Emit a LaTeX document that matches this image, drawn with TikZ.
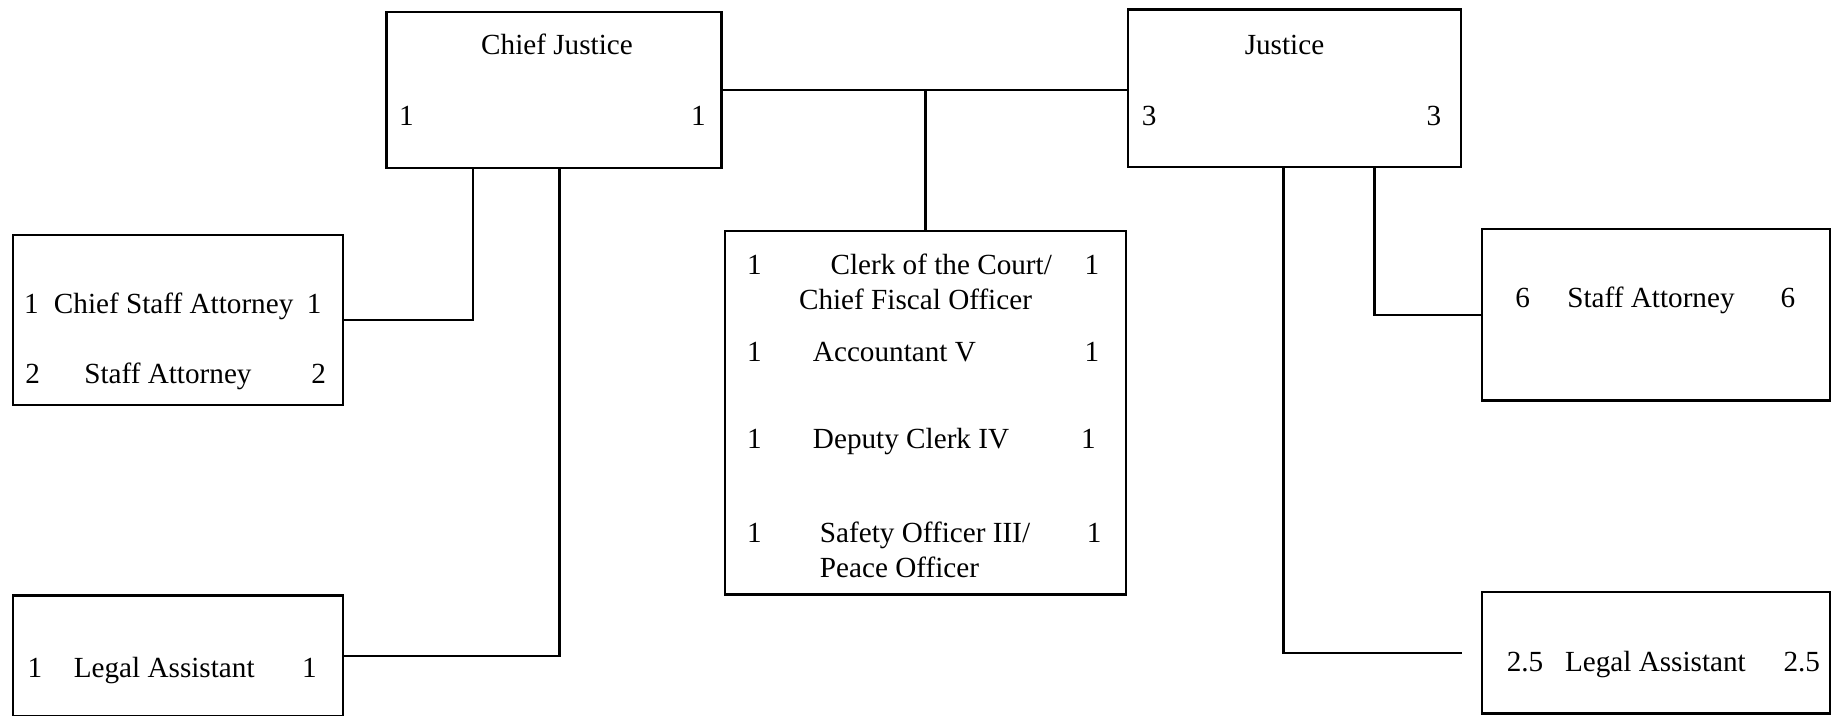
\documentclass[tikz,border=0pt]{standalone}
\usepackage{fontspec}
\setmainfont{Liberation Serif}
\usetikzlibrary{calc}
\begin{document}
\begin{tikzpicture}[x=1pt,y=-1pt,
  box/.style={draw, line width=2pt, inner sep=0pt, anchor=north west},
  conn/.style={line width=2pt},
  lbl/.style={inner sep=0pt, yshift=-6pt, font=\fontsize{25}{28}\selectfont},
  lw/.style={lbl, anchor=mid west},
  lc/.style={lbl, anchor=mid}]
\useasboundingbox (0,0) rectangle (1568,613);
% boxes
\node[box, minimum width=287pt, minimum height=134pt] (cj) at (330,9) {};
\node[box, minimum width=285pt, minimum height=135pt] (j) at (965,7) {};
\node[box, minimum width=343pt, minimum height=311pt] (cb) at (620,197) {};
\node[box, minimum width=283pt, minimum height=146pt] (lb1) at (10,200) {};
\node[box, minimum width=283pt, minimum height=103pt] (la1) at (10,509) {};
\node[box, minimum width=298pt, minimum height=147pt] (sa2) at (1268,195) {};
\node[box, minimum width=298pt, minimum height=104pt] (la2) at (1268,506) {};
% texts: Chief Justice
\node[lc] (cjt) at (477,38) {Chief Justice};
\node[lc] (cjl) at (348,99) {1};
\node[lc] (cjr) at (598,99) {1};
% Justice
\node[lc] (jt) at (1100,38) {Justice};
\node[lc] (jl) at (984,99) {3};
\node[lc] (jr) at (1228,99) {3};
% center box
\node[lc] (c1l) at (646,227) {1};
\node[lc] (c1t) at (806,227) {Clerk of the Court/};
\node[lc] (c1r) at (935,227) {1};
\node[lc] (c1u) at (784,257) {Chief Fiscal Officer};
\node[lc] (c2l) at (646,301) {1};
\node[lw] (c2t) at (696,301) {Accountant V};
\node[lc] (c2r) at (935,301) {1};
\node[lc] (c3l) at (646,376) {1};
\node[lw] (c3t) at (696,376) {Deputy Clerk IV};
\node[lc] (c3r) at (932,376) {1};
\node[lc] (c4l) at (646,456) {1};
\node[lw] (c4t) at (702,456) {Safety Officer III/};
\node[lc] (c4r) at (937,456) {1};
\node[lw] (c4u) at (702,486) {Peace Officer};
% left box 1
\node[lc] (l1l) at (27,260) {1};
\node[lw] (l1t) at (46,260) {Chief Staff Attorney};
\node[lc] (l1r) at (269,260) {1};
\node[lc] (l2l) at (28,320) {2};
\node[lw] (l2t) at (72,320) {Staff Attorney};
\node[lc] (l2r) at (273,320) {2};
% left legal assistant
\node[lc] (lal) at (30,572) {1};
\node[lw] (lat) at (63,572) {Legal Assistant};
\node[lc] (lar) at (265,572) {1};
% right staff attorney
\node[lc] (r1l) at (1304,255) {6};
\node[lw] (r1t) at (1342,255) {Staff Attorney};
\node[lc] (r1r) at (1531,255) {6};
% right legal assistant
\node[lc] (r2l) at (1306,567) {2.5};
\node[lw] (r2t) at (1340,567) {Legal Assistant};
\node[lc] (r2r) at (1543,567) {2.5};
% connectors
\draw[conn] (cj.east) -- (cj.east -| j.west);
\draw[conn] (cb.north) -- (cb.north |- cj.east);
\draw[conn] ($(cj.south west)+(75,0)$) |- (lb1.east);
\draw[conn] ($(cj.south west)+(149,0)$) |- (la1.east);
\draw[conn] ($(j.south west)+(212,0)$) |- (sa2.west);
\coordinate (la2end) at ($(la2.west)+(-16,0)$);
\draw[conn] ($(j.south west)+(134,0)$) |- (la2end);
\end{tikzpicture}
\end{document}
